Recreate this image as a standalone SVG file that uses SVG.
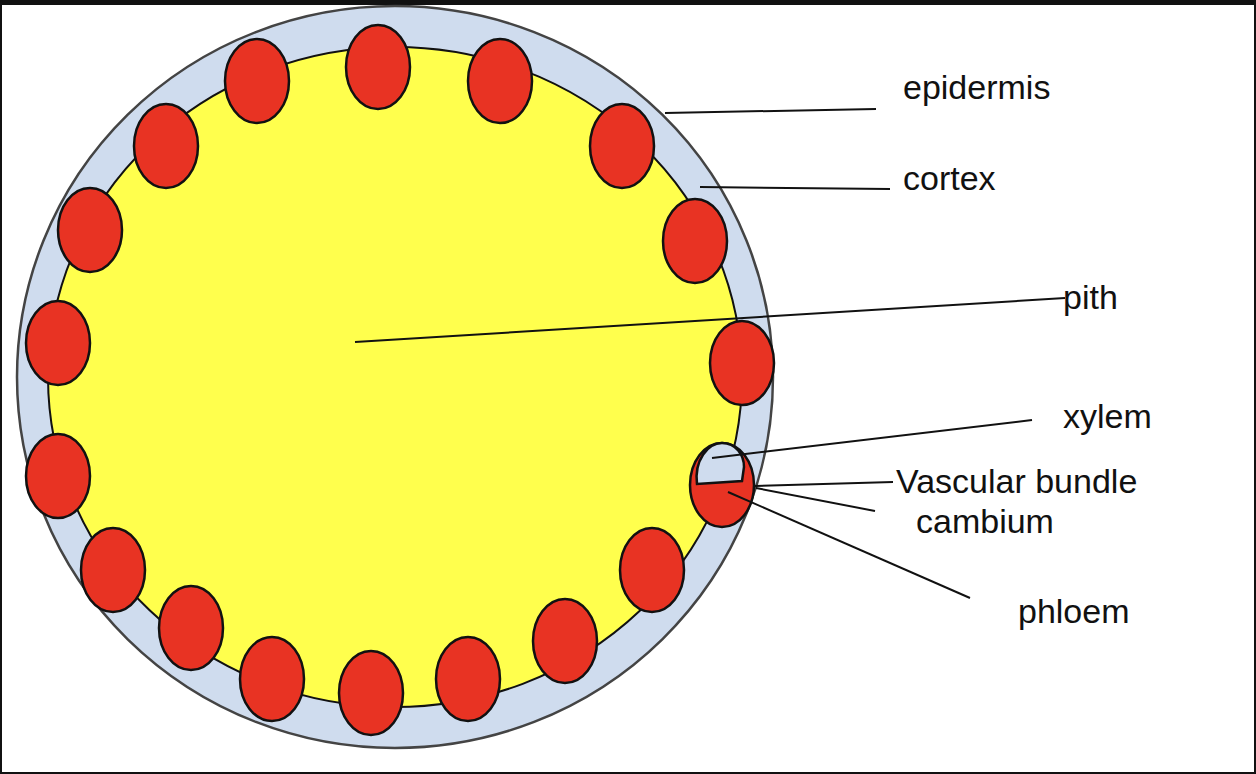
<svg xmlns="http://www.w3.org/2000/svg" width="1256" height="774" viewBox="0 0 1256 774">
<style>
.v{fill:#e83323;stroke:#111;stroke-width:2.5}
.l{stroke:#111;stroke-width:2;fill:none}
text{font-family:"Liberation Sans",Arial,sans-serif;font-size:34px;fill:#111}
</style>
<rect width="1256" height="774" fill="#111"/>
<rect x="2" y="5" width="1252" height="767" fill="#fff"/>
<g id="epidermis"><ellipse cx="395" cy="377" rx="378" ry="371" fill="#cfdcee" stroke="#444" stroke-width="2.5"/></g>
<g id="pith"><ellipse cx="395" cy="377" rx="347" ry="330" fill="#ffff4d" stroke="#111" stroke-width="2"/></g>
<g id="bundles">
<ellipse class="v" cx="257" cy="81" rx="32" ry="42"/>
<ellipse class="v" cx="378" cy="67" rx="32" ry="42"/>
<ellipse class="v" cx="500" cy="81" rx="32" ry="42"/>
<ellipse class="v" cx="622" cy="146" rx="32" ry="42"/>
<ellipse class="v" cx="695" cy="241" rx="32" ry="42"/>
<ellipse class="v" cx="742" cy="363" rx="32" ry="42"/>
<ellipse class="v" cx="166" cy="146" rx="32" ry="42"/>
<ellipse class="v" cx="90" cy="230" rx="32" ry="42"/>
<ellipse class="v" cx="58" cy="343" rx="32" ry="42"/>
<ellipse class="v" cx="58" cy="476" rx="32" ry="42"/>
<ellipse class="v" cx="113" cy="570" rx="32" ry="42"/>
<ellipse class="v" cx="191" cy="628" rx="32" ry="42"/>
<ellipse class="v" cx="272" cy="679" rx="32" ry="42"/>
<ellipse class="v" cx="371" cy="693" rx="32" ry="42"/>
<ellipse class="v" cx="468" cy="679" rx="32" ry="42"/>
<ellipse class="v" cx="565" cy="641" rx="32" ry="42"/>
<ellipse class="v" cx="652" cy="570" rx="32" ry="42"/>
</g>
<g id="vascular-bundle">
<ellipse class="v" cx="722" cy="485" rx="32" ry="42"/>
<path d="M697,484 C694,460 708,443 722,443 C736,443 744,455 744,467 L742,481 Z" fill="#cfdcee" stroke="#111" stroke-width="2.5"/>
</g>
<g id="connectors">
<line class="l" x1="665" y1="113" x2="876" y2="109"/>
<line class="l" x1="700" y1="187" x2="890" y2="189"/>
<line class="l" x1="355" y1="342" x2="1065" y2="298"/>
<line class="l" x1="712" y1="458" x2="1032" y2="420"/>
<line class="l" x1="755" y1="486" x2="893" y2="482"/>
<line class="l" x1="756" y1="488" x2="875" y2="511"/>
<line class="l" x1="728" y1="492" x2="970" y2="598"/>
</g>
<g id="labels">
<text x="903" y="99">epidermis</text>
<text x="903" y="190">cortex</text>
<text x="1063" y="309">pith</text>
<text x="1063" y="428">xylem</text>
<text x="896" y="493">Vascular bundle</text>
<text x="916" y="533">cambium</text>
<text x="1018" y="623">phloem</text>
</g>
</svg>
